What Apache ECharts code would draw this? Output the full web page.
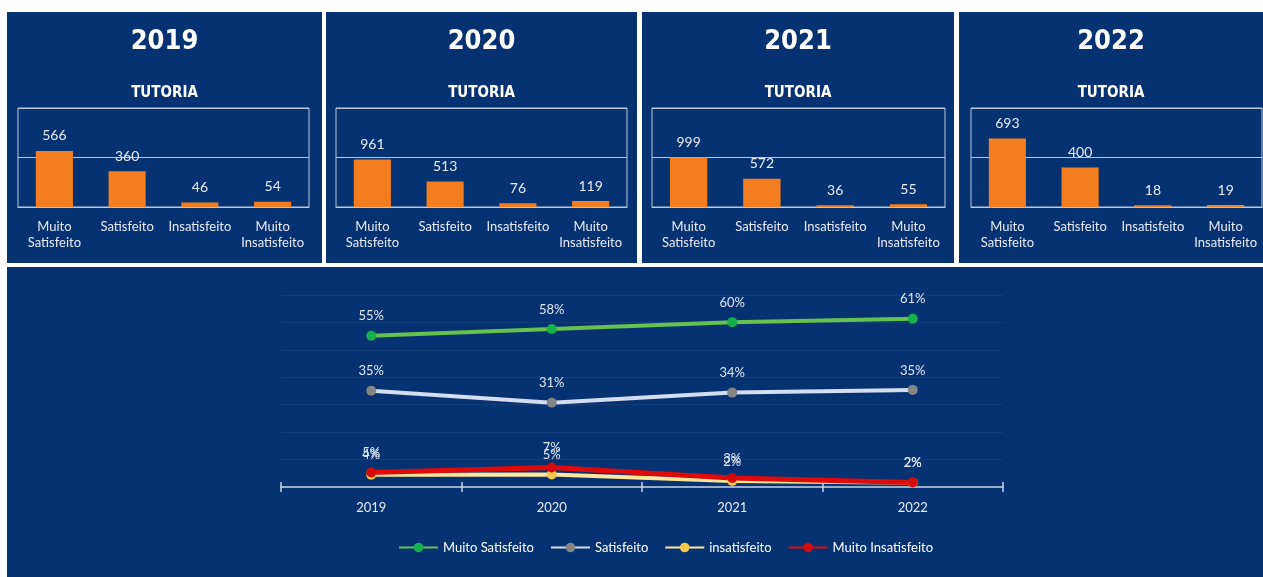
<!DOCTYPE html>
<html>
<head>
<meta charset="utf-8">
<script src="https://cdn.jsdelivr.net/npm/echarts@6/dist/echarts.min.js"></script>
<style>
html,body{margin:0;padding:0;background:#ffffff;}
#chart{width:1263px;height:577px;}
</style>
</head>
<body>
<div id="chart"></div>
<script>
// ---- data ----
var years = ['2019', '2020', '2021', '2022'];
var categories = ['Muito\nSatisfeito', 'Satisfeito', 'Insatisfeito', 'Muito\nInsatisfeito'];
var counts2019 = [566, 360, 46, 54];
var counts2020 = [961, 513, 76, 119];
var counts2021 = [999, 572, 36, 55];
var counts2022 = [693, 400, 18, 19];
var barAxisMax = [1000, 2000, 2000, 1000];
var lineNames = ['Muito Satisfeito', 'Satisfeito', 'insatisfeito', 'Muito Insatisfeito'];
var muitoSatisfeitoPct = [55.17, 57.58, 60.11, 61.33];
var satisfeitoPct = [35.09, 30.74, 34.42, 35.40];
var insatisfeitoPct = [4.48, 4.55, 2.17, 1.59];
var muitoInsatisfeitoPct = [5.26, 7.13, 3.31, 1.68];

// ---- layout ----
var bg = '#073271';
var lineCol = '#b9c8dc';
var txtCol = '#e6ebf3';
var font = 'Lato, "Open Sans", sans-serif';
var panels = [
  {x: 7, w: 315, gl: 18, gw: 291},
  {x: 326, w: 311, gl: 336, gw: 291},
  {x: 642, w: 312, gl: 652, gw: 293},
  {x: 959, w: 304, gl: 971, gw: 291}
];
var barCounts = [counts2019, counts2020, counts2021, counts2022];

var grids = [], xAxes = [], yAxes = [], series = [], graphics = [];

panels.forEach(function (p, i) {
  graphics.push({type: 'rect', shape: {x: p.x, y: 12, width: p.w, height: 251}, style: {fill: bg}, z: -10});
  graphics.push({type: 'text', x: p.x + p.w / 2, y: 42, style: {text: years[i], fill: '#ffffff', font: 'bold 27px "DejaVu Sans Condensed", sans-serif', align: 'center', verticalAlign: 'middle'}});
  graphics.push({type: 'text', x: p.x + p.w / 2, y: 93, style: {text: 'TUTORIA', fill: '#ffffff', font: 'bold 15px "DejaVu Sans Condensed", sans-serif', align: 'center', verticalAlign: 'middle'}});
  grids.push({left: p.gl, width: p.gw, top: 108, height: 99, show: true, borderColor: lineCol, borderWidth: 1, backgroundColor: 'transparent'});
  xAxes.push({
    type: 'category', gridIndex: i, data: categories,
    axisLine: {show: true, lineStyle: {color: lineCol, width: 1}},
    axisTick: {show: false},
    axisLabel: {color: txtCol, fontFamily: font, fontSize: 13, lineHeight: 16, margin: 12, interval: 0}
  });
  yAxes.push({
    type: 'value', gridIndex: i, min: 0, max: barAxisMax[i], interval: barAxisMax[i] / 2,
    axisLine: {show: false}, axisTick: {show: false}, axisLabel: {show: false},
    splitLine: {show: true, lineStyle: {color: lineCol, width: 1}}
  });
  series.push({
    type: 'bar', xAxisIndex: i, yAxisIndex: i, data: barCounts[i], barWidth: '51%',
    itemStyle: {color: '#f47d20'},
    label: {show: true, position: 'top', distance: 8, color: txtCol, fontFamily: font, fontSize: 14}
  });
});

// bottom panel
graphics.push({type: 'rect', shape: {x: 7, y: 267, width: 1256, height: 310}, style: {fill: bg}, z: -10});
grids.push({left: 281, right: 260, top: 295, bottom: 90});
xAxes.push({
  type: 'category', gridIndex: 4, data: years, boundaryGap: true,
  axisLine: {show: true, lineStyle: {color: '#c8d3e3', width: 1.5}},
  axisTick: {show: true, length: 5, lineStyle: {color: '#c8d3e3', width: 1.5}},
  axisLabel: {color: txtCol, fontFamily: font, fontSize: 13, margin: 14}
});
xAxes.push({
  type: 'category', gridIndex: 4, data: years, boundaryGap: true, position: 'bottom',
  axisLine: {show: false},
  axisTick: {show: true, inside: true, length: 5, lineStyle: {color: '#c8d3e3', width: 1.5}},
  axisLabel: {show: false}
});
yAxes.push({
  type: 'value', gridIndex: 4, min: 0, max: 70, interval: 10,
  axisLine: {show: false}, axisTick: {show: false}, axisLabel: {show: false},
  splitLine: {show: true, lineStyle: {color: 'rgba(255,255,255,0.06)', width: 1}}
});

var lineData = [muitoSatisfeitoPct, satisfeitoPct, insatisfeitoPct, muitoInsatisfeitoPct];
var lineColors = ['#66c24e', '#d5deee', '#ffe699', '#e00a0a'];
var markColors = ['#16b04c', '#858585', '#f5c84a', '#d40b0b'];
var lineWidths = [4, 4, 4, 5];
lineData.forEach(function (d, k) {
  series.push({
    type: 'line', name: lineNames[k], xAxisIndex: 4, yAxisIndex: 4, data: d,
    symbol: 'circle', symbolSize: 10,
    lineStyle: {color: lineColors[k], width: lineWidths[k]},
    itemStyle: {color: markColors[k], borderWidth: 0},
    label: {show: true, position: 'top', distance: 8, color: '#dfe6f0', fontFamily: font, fontSize: 13,
      formatter: function (p) { return Math.round(p.value) + '%'; }},
    emphasis: {disabled: true}
  });
});

var chart = echarts.init(document.getElementById('chart'), null, {renderer: 'canvas'});
chart.setOption({
  backgroundColor: '#ffffff',
  animation: false,
  graphic: graphics,
  grid: grids,
  xAxis: xAxes,
  yAxis: yAxes,
  legend: {
    data: lineNames, left: 393, top: 536, itemWidth: 39, itemHeight: 12, itemGap: 16,
    textStyle: {color: '#ffffff', fontFamily: font, fontSize: 13}
  },
  series: series
});
</script>
</body>
</html>
